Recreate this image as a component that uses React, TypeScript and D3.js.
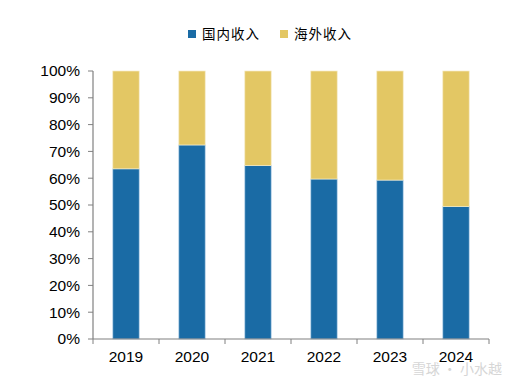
import React from "react";
import * as d3 from "d3";

const years = ["2019", "2020", "2021", "2022", "2023", "2024"];
const domestic = [63.5, 72.4, 64.7, 59.7, 59.3, 49.4];
const yTicks = [0, 10, 20, 30, 40, 50, 60, 70, 80, 90, 100];
const seriesNames = ["国内收入", "海外收入"];
const colors = ["#1A6BA5", "#E3C764"];

export default function App() {
  const W = 513, H = 381;
  const left = 93, right = 489, top = 71, bottom = 339;
  const x = d3.scaleBand<string>().domain(years).range([left, right]).paddingInner(0.6).paddingOuter(0.3);
  const xb = d3.scaleBand<string>().domain(years).range([left, right]);
  const y = d3.scaleLinear().domain([0, 100]).range([bottom, top]);
  const font = "Arial, 'Liberation Sans', sans-serif";
  const cjk = "'Noto Sans CJK SC', sans-serif";
  return (
    <svg width={W} height={H} style={{ position: "absolute", left: 0, top: 0 }}>
      <rect width={W} height={H} fill="#fff" />
      {years.map((yr, i) => (
        <g key={yr}>
          <rect x={x(yr)} y={y(domestic[i])} width={x.bandwidth()} height={bottom - y(domestic[i])} fill={colors[0]} stroke="#B8D4EC" strokeWidth={0.7} />
          <rect x={x(yr)} y={y(100)} width={x.bandwidth()} height={y(domestic[i]) - y(100)} fill={colors[1]} stroke="#F5EBC6" strokeWidth={0.7} />
        </g>
      ))}
      <line x1={left} x2={left} y1={top} y2={bottom} stroke="#808080" strokeWidth={1.2} />
      <line x1={left} x2={right} y1={bottom} y2={bottom} stroke="#808080" strokeWidth={1.2} />
      {yTicks.map((t) => (
        <g key={t}>
          <line x1={left - 5} x2={left} y1={y(t)} y2={y(t)} stroke="#808080" />
          <text x={80} y={y(t)} dy="0.35em" textAnchor="end" fontFamily={font} fontSize={15.5} fill="#000">{t}%</text>
        </g>
      ))}
      {[...years.map((yr) => xb(yr)!), right].map((v, i) => (
        <line key={i} x1={v} x2={v} y1={bottom} y2={bottom + 5} stroke="#808080" />
      ))}
      {years.map((yr) => (
        <text key={yr} x={xb(yr)! + xb.bandwidth() / 2} y={357} dy="0.35em" textAnchor="middle" fontFamily={font} fontSize={15.5} fill="#000">{yr}</text>
      ))}
      {seriesNames.map((n, i) => (
        <g key={n} transform={`translate(${188 + i * 92},0)`}>
          <rect x={0} y={30} width={8} height={8} fill={colors[i]} />
          <text x={14} y={34} dy="0.35em" fontFamily={cjk} fontSize={13.5} fill="#000" letterSpacing={1}>{n}</text>
        </g>
      ))}
      <text x={502} y={369} dy="0.35em" textAnchor="end" fontFamily={cjk} fontSize={14} fill="#D6D6D6">雪球 · 小水越</text>
    </svg>
  );
}
